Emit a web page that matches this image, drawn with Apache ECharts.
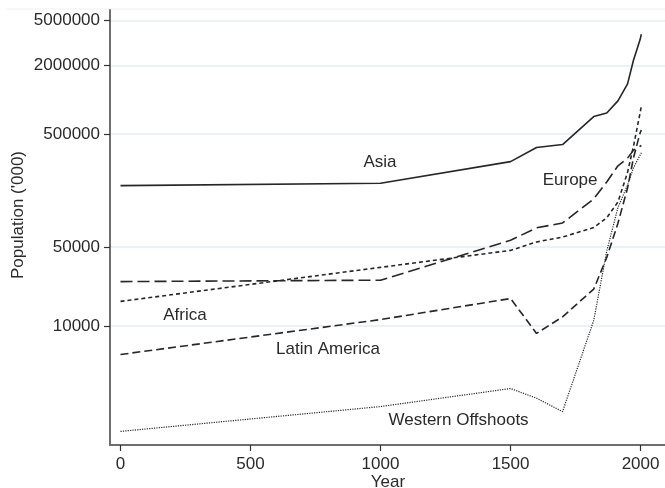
<!DOCTYPE html>
<html>
<head>
<meta charset="utf-8">
<script src="https://cdn.jsdelivr.net/npm/echarts@6/dist/echarts.min.js"></script>
<style>
html,body{margin:0;padding:0;background:#fff;}
#chart{width:665px;height:488px;}
</style>
</head>
<body>
<div id="chart"></div>
<script>
// Data (population in thousands)
var years = [0, 1000, 1500, 1600, 1700, 1820, 1870, 1913, 1950, 1973, 1998, 2003];
var asia = [174200, 182879, 283800, 378500, 401800, 710400, 765100, 977600, 1381900, 2249000, 3390000, 3800000];
var europe = [24700, 25413, 57268, 73778, 81460, 133040, 187532, 261007, 304941, 358825, 388399, 394600];
var africa = [16500, 33000, 46610, 55320, 61080, 74208, 90466, 124697, 228342, 390203, 759954, 880000];
var latinAmerica = [5600, 11400, 17500, 8600, 12050, 21220, 40399, 80935, 165837, 308395, 507623, 541000];
var westernOffshoots = [1170, 1940, 2800, 2300, 1750, 11230, 46088, 111401, 176300, 250800, 323420, 340000];
var xTicks = [0, 500, 1000, 1500, 2000];
var yTicks = [10000, 50000, 500000, 2000000, 5000000];
var seriesNames = ['Asia', 'Europe', 'Africa', 'Latin America', 'Western Offshoots'];
var labelPos = {
  'Asia': [998, 282000],
  'Europe': [1729, 195500],
  'Africa': [248, 12500],
  'Latin America': [798, 6270],
  'Western Offshoots': [1300, 1455]
};

function pairs(arr) { return years.map(function (y, i) { return [y, arr[i]]; }); }

var FONT = 'Liberation Sans, Arial, sans-serif';
var lineColor = '#262626';
var styles = [
  { width: 1.6, type: 'solid' },
  { width: 1.6, type: [12, 5] },
  { width: 1.6, type: [4, 3] },
  { width: 1.6, type: [8, 4] },
  { width: 1.2, type: [1.2, 1.2] }
];
var datasets = [asia, europe, africa, latinAmerica, westernOffshoots];

var series = datasets.map(function (d, i) {
  var name = seriesNames[i];
  return {
    name: name,
    type: 'line',
    data: pairs(d),
    symbol: 'none',
    lineStyle: { color: lineColor, width: styles[i].width, type: styles[i].type },
    silent: true,
    animation: false,
    markPoint: {
      symbol: 'circle', symbolSize: 0, animation: false,
      data: [{ coord: labelPos[name], value: name }],
      label: { show: true, position: 'inside', formatter: name, color: '#2a2a2a', fontSize: 17, fontFamily: FONT }
    }
  };
});

var chart = echarts.init(document.getElementById('chart'), null, { renderer: 'canvas' });
chart.setOption({
  animation: false,
  backgroundColor: '#fff',
  grid: { left: 110, right: 0, top: 10, bottom: 43, containLabel: false, outerBoundsMode: 'none' },
  xAxis: {
    type: 'value', min: -40.4, max: 2094,
    axisLine: { show: true, onZero: false, lineStyle: { color: '#6e6e6e', width: 2 } },
    axisTick: { show: true, length: 6, lineStyle: { color: '#333', width: 1.2 }, customValues: xTicks },
    axisLabel: { customValues: xTicks, color: '#2a2a2a', fontSize: 17, margin: 11, fontFamily: FONT,
      formatter: function (v) { return String(Math.round(v)); } },
    splitLine: { show: false }
  },
  yAxis: {
    type: 'log', logBase: 10, min: 887, max: 6220000,
    axisLine: { show: true, onZero: false, lineStyle: { color: '#6e6e6e', width: 2 } },
    axisTick: { show: true, length: 6, lineStyle: { color: '#333', width: 1.2 }, customValues: yTicks },
    axisLabel: { customValues: yTicks, color: '#2a2a2a', fontSize: 17, margin: 10, fontFamily: FONT,
      formatter: function (v) { return String(Math.round(v)); } },
    splitLine: { show: true, lineStyle: { color: '#e4edf1', width: 1.5 } }
  },
  graphic: [
    { type: 'line', shape: { x1: 6, y1: 9, x2: 665, y2: 9 }, style: { stroke: '#eef3f5', lineWidth: 1.2 }, silent: true },
    { type: 'text', x: 18, y: 215, rotation: Math.PI / 2,
      style: { text: "Population ('000)", fill: '#2a2a2a', fontSize: 17, fontFamily: FONT, align: 'center', verticalAlign: 'middle' } },
    { type: 'text', x: 388, y: 482, 
      style: { text: 'Year', fill: '#2a2a2a', fontSize: 17, fontFamily: FONT, align: 'center', verticalAlign: 'middle' } }
  ],
  series: series
});
</script>
</body>
</html>
